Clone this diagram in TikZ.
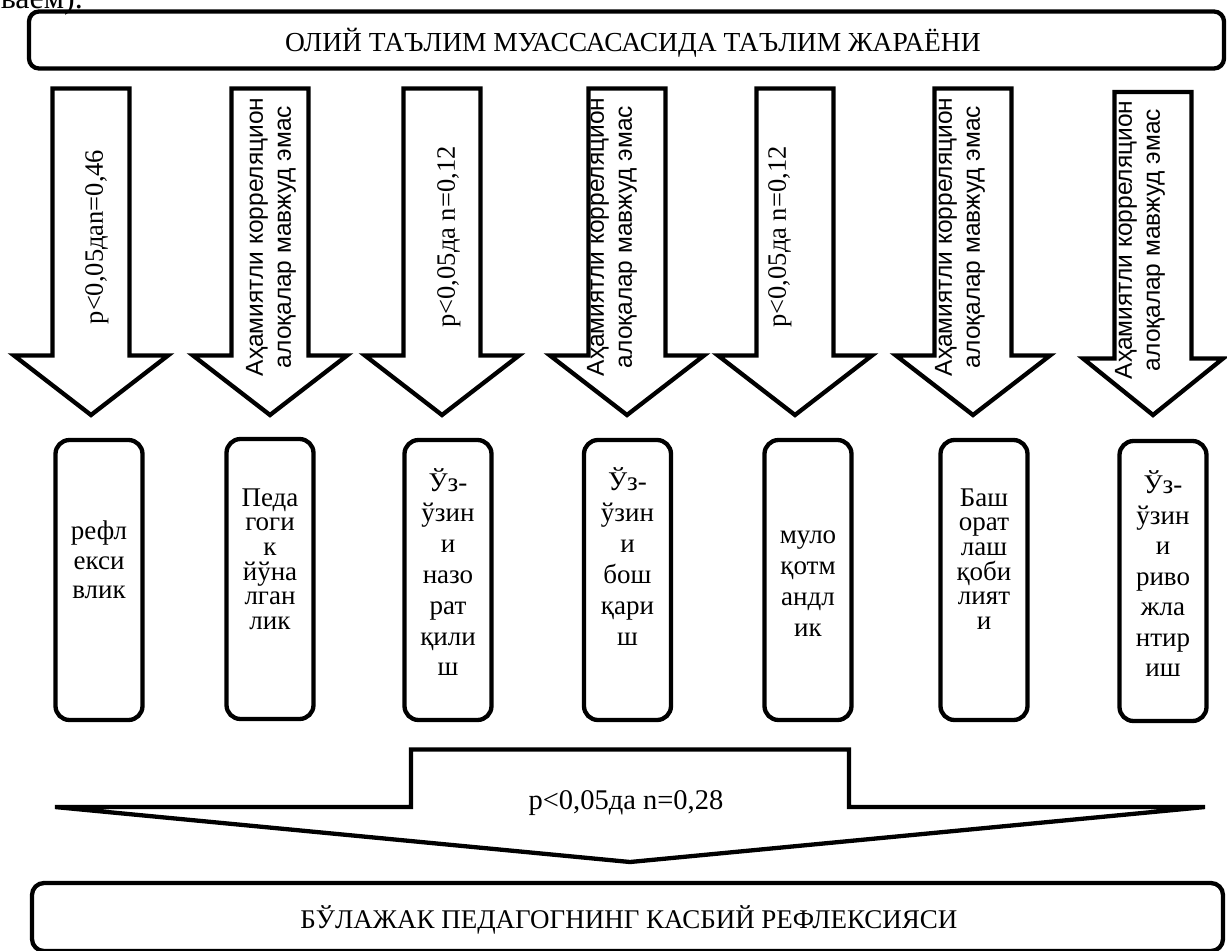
\documentclass[tikz,border=0pt]{standalone}
\usepackage{fontspec}
\setmainfont{Liberation Serif}
\newfontfamily\sansf{Liberation Sans}
\tikzset{
  frame/.style={draw, line width=4.3pt, rounded corners=10pt, inner sep=0pt},
  cellbox/.style={draw, line width=4.3pt, rounded corners=14pt, inner sep=0pt,
    minimum width=87pt, minimum height=280pt},
  blockarrow/.style={draw, line width=4.3pt, fill=white, line join=miter},
  serifbig/.style={font=\fontsize{27.5}{31}\selectfont, inner sep=0pt},
  arrowtxt/.style={font=\fontsize{26.5}{30}\selectfont, inner sep=0pt, rotate=90},
  arrowtwo/.style={font=\sansf\fontsize{24.5}{28}\selectfont, inner sep=0pt, rotate=90, align=center},
  celltxt/.style={inner sep=0pt, align=center},
}
\newcommand\DownArr[6]{% cx, shaft half width, head half width, top, base, tip
  \draw[blockarrow] ({#1-#2},#4) -- ({#1+#2},#4) -- ({#1+#2},#5) -- ({#1+#3},#5)
    -- (#1,#6) -- ({#1-#3},#5) -- ({#1-#2},#5) -- cycle;}
\begin{document}
\begin{tikzpicture}[x=1pt,y=-1pt]
\useasboundingbox[fill=white] (0,0) rectangle (1227,951);

% cut-off fragment at the top
\node[font=\fontsize{32}{36}\selectfont, inner sep=0pt, anchor=base east] (frag) at (83,8) {ваем).};

% top box
\node[frame, minimum width=1195pt, minimum height=57pt] (top) at (626.5,40) {};
\node[serifbig] (toptxt) at (633,43) {ОЛИЙ ТАЪЛИМ МУАССАСАСИДА ТАЪЛИМ ЖАРАЁНИ};

% down arrows
\DownArr{91}{38.5}{77}{88.5}{355.5}{415}
\DownArr{270}{38.5}{77}{88.5}{355.5}{415}
\DownArr{442}{38.5}{77}{88.5}{355.5}{415}
\DownArr{627}{38.5}{77}{88.5}{355.5}{415}
\DownArr{795}{38.5}{77}{88.5}{355.5}{415}
\DownArr{973}{38.5}{77}{88.5}{355.5}{415}
\DownArr{1153}{38.5}{70}{92}{358.5}{415}

\node[arrowtxt] (a1) at (97,237) {p<0,05даn=0,46};
\node[arrowtwo] (a2) at (271,237) {Аҳамиятли корреляцион\\алоқалар мавжуд эмас};
\node[arrowtxt] (a3) at (449,237) {p<0,05да n=0,12};
\node[arrowtwo] (a4) at (612,237) {Аҳамиятли корреляцион\\алоқалар мавжуд эмас};
\node[arrowtxt] (a5) at (780,237) {p<0,05да n=0,12};
\node[arrowtwo] (a6) at (960,237) {Аҳамиятли корреляцион\\алоқалар мавжуд эмас};
\node[arrowtwo] (a7) at (1140,240) {Аҳамиятли корреляцион\\алоқалар мавжуд эмас};

% boxes
\node[cellbox] (b1) at (99,580) {};
\node[cellbox] (b2) at (270,579) {};
\node[cellbox] (b3) at (448,580) {};
\node[cellbox] (b4) at (627.5,580) {};
\node[cellbox] (b5) at (808,580) {};
\node[cellbox] (b6) at (984,580) {};
\node[cellbox] (b7) at (1163,581) {};

\node[celltxt, font=\fontsize{27}{29.5}\selectfont] (t1) at (99,560) {рефл\\екси\\влик};
\node[celltxt, font=\fontsize{27}{24.6}\selectfont] (t2) at (270,559) {Педа\\гоги\\к\\йўна\\лган\\лик};
\node[celltxt, font=\fontsize{27}{30.8}\selectfont] (t3) at (448,572) {Ўз-\\ўзин\\и\\назо\\рат\\қили\\ш};
\node[celltxt, font=\fontsize{27}{31}\selectfont] (t4) at (627.5,557) {Ўз-\\ўзин\\и\\бош\\қари\\ш};
\node[celltxt, font=\fontsize{27}{31}\selectfont] (t5) at (808,584) {муло\\қотм\\андл\\ик};
\node[celltxt, font=\fontsize{27}{24.6}\selectfont] (t6) at (984,559) {Баш\\орат\\лаш\\қоби\\лият\\и};
\node[celltxt, font=\fontsize{27}{30.5}\selectfont] (t7) at (1163,574) {Ўз-\\ўзин\\и\\риво\\жла\\нтир\\иш};

% bottom wide arrow
\draw[blockarrow] (411,749.5) -- (849,749.5) -- (849,807) -- (1205,807) -- (630,862)
  -- (55,807) -- (411,807) -- cycle;
\node[font=\fontsize{28.5}{32}\selectfont, inner sep=0pt] (bt) at (626,803) {p<0,05да n=0,28};

% bottom box
\node[frame, rounded corners=12pt, minimum width=1191pt, minimum height=68pt] (bottom) at (627.5,917) {};
\node[font=\fontsize{27}{31}\selectfont, inner sep=0pt] (bottxt) at (629,920) {БЎЛАЖАК ПЕДАГОГНИНГ КАСБИЙ РЕФЛЕКСИЯСИ};
\end{tikzpicture}
\end{document}
